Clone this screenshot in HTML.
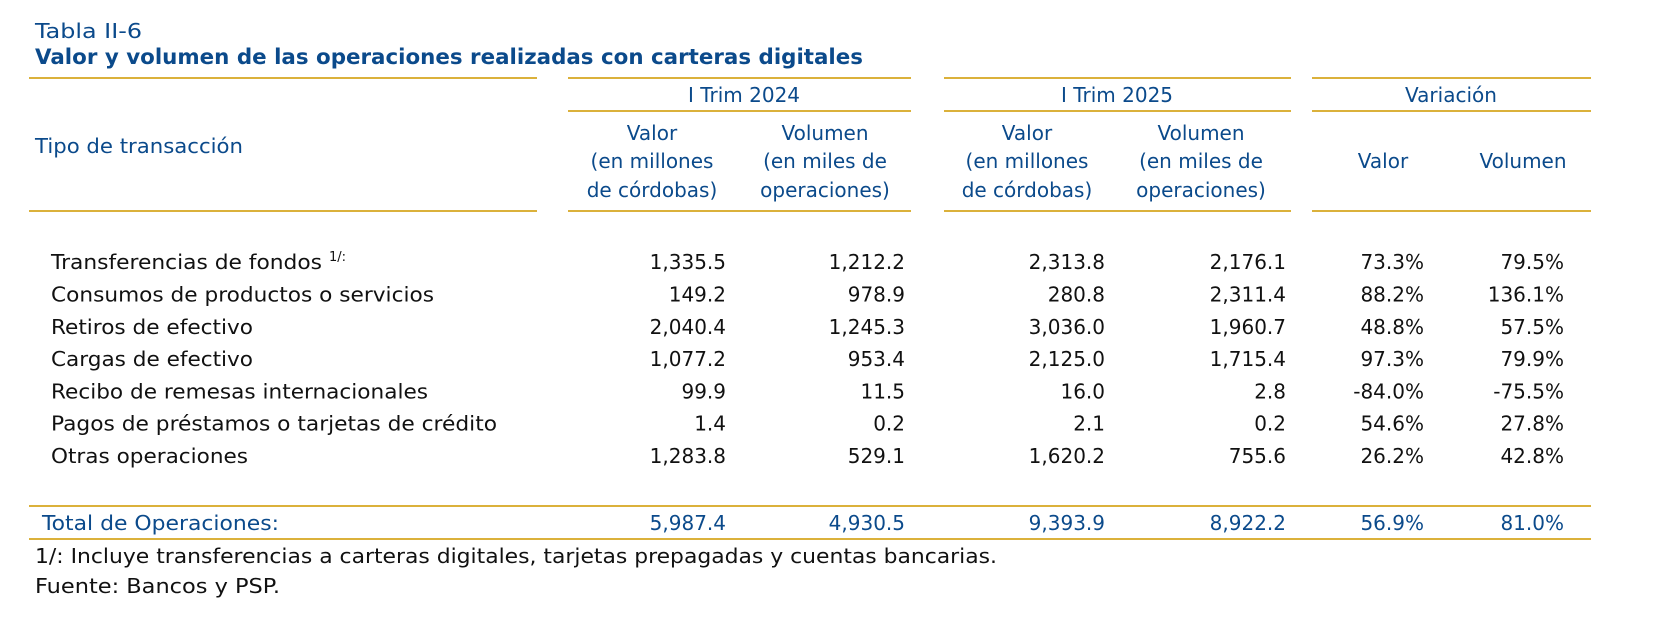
<!DOCTYPE html>
<html><head><meta charset="utf-8"><style>
html,body{margin:0;padding:0;background:#fff;}
svg{display:block;}
text{font-family:"DejaVu Sans","Liberation Sans",sans-serif;}
.hd{fill:#0b4a8b;font-size:20px;}
.num{fill:#111;font-size:20px;text-anchor:end;}
.lbl{fill:#111;font-size:20px;}
.tot{fill:#0b4a8b;font-size:20px;}
.c{text-anchor:middle;}
</style></head><body>
<svg id="tbl" width="1658" height="620" viewBox="0 0 1658 620">
<text x="35" y="38" class="hd" textLength="107" lengthAdjust="spacingAndGlyphs">Tabla II-6</text>
<text x="35" y="64" style="fill:#0b4a8b;font-weight:bold;font-size:21px" textLength="828" lengthAdjust="spacingAndGlyphs">Valor y volumen de las operaciones realizadas con carteras digitales</text>
<g stroke="#dbb13b" stroke-width="2">
<line x1="29" y1="78" x2="537" y2="78"/><line x1="568" y1="78" x2="911" y2="78"/><line x1="944" y1="78" x2="1291" y2="78"/><line x1="1312" y1="78" x2="1591" y2="78"/>
<line x1="568" y1="111" x2="911" y2="111"/><line x1="944" y1="111" x2="1291" y2="111"/><line x1="1312" y1="111" x2="1591" y2="111"/>
<line x1="29" y1="211" x2="537" y2="211"/><line x1="568" y1="211" x2="911" y2="211"/><line x1="944" y1="211" x2="1291" y2="211"/><line x1="1312" y1="211" x2="1591" y2="211"/>
<line x1="29" y1="506" x2="1591" y2="506"/><line x1="29" y1="539" x2="1591" y2="539"/>
</g>
<text x="35" y="153" class="hd" textLength="208" lengthAdjust="spacingAndGlyphs">Tipo de transacción</text>
<text x="744" y="102" class="hd c">I Trim 2024</text>
<text x="1117" y="102" class="hd c">I Trim 2025</text>
<text x="1451" y="102" class="hd c">Variación</text>
<g>
<text x="652" y="140" class="hd c">Valor</text><text x="652" y="168" class="hd c">(en millones</text><text x="652" y="197" class="hd c">de córdobas)</text></g>
<g>
<text x="825" y="140" class="hd c">Volumen</text><text x="825" y="168" class="hd c">(en miles de</text><text x="825" y="197" class="hd c">operaciones)</text></g>
<g>
<text x="1027" y="140" class="hd c">Valor</text><text x="1027" y="168" class="hd c">(en millones</text><text x="1027" y="197" class="hd c">de córdobas)</text></g>
<g>
<text x="1201" y="140" class="hd c">Volumen</text><text x="1201" y="168" class="hd c">(en miles de</text><text x="1201" y="197" class="hd c">operaciones)</text></g>
<text x="1383" y="168" class="hd c">Valor</text>
<text x="1523" y="168" class="hd c">Volumen</text>
<g id="rows"></g>
<text x="42" y="530" class="tot" textLength="237" lengthAdjust="spacingAndGlyphs">Total de Operaciones:</text>
<g id="totals"></g>
<text x="35" y="563" class="lbl" textLength="962" lengthAdjust="spacingAndGlyphs">1/: Incluye transferencias a carteras digitales, tarjetas prepagadas y cuentas bancarias.</text>
<text x="35" y="593" class="lbl" textLength="245" lengthAdjust="spacingAndGlyphs">Fuente: Bancos y PSP.</text>
</svg>
<script>
const categories = ["Transferencias de fondos","Consumos de productos o servicios","Retiros de efectivo","Cargas de efectivo","Recibo de remesas internacionales","Pagos de préstamos o tarjetas de crédito","Otras operaciones"];
const value2024 = ["1,335.5","149.2","2,040.4","1,077.2","99.9","1.4","1,283.8"];
const volume2024 = ["1,212.2","978.9","1,245.3","953.4","11.5","0.2","529.1"];
const value2025 = ["2,313.8","280.8","3,036.0","2,125.0","16.0","2.1","1,620.2"];
const volume2025 = ["2,176.1","2,311.4","1,960.7","1,715.4","2.8","0.2","755.6"];
const varValue = ["73.3%","88.2%","48.8%","97.3%","-84.0%","54.6%","26.2%"];
const varVolume = ["79.5%","136.1%","57.5%","79.9%","-75.5%","27.8%","42.8%"];
const totals = ["5,987.4","4,930.5","9,393.9","8,922.2","56.9%","81.0%"];
const NS = "http://www.w3.org/2000/svg";
const labelWidths = [271,383,202,202,377,446,197];
const colRight = [726,905,1105,1286,1424,1564];
const colNames = ["value-2024","volume-2024","value-2025","volume-2025","var-value","var-volume"];
const rowY = i => 269.2 + i * 32.3;
const rowsG = document.getElementById('rows');
categories.forEach((cat, i) => {
  const g = document.createElementNS(NS, 'g');
  
  
  const t = document.createElementNS(NS, 'text');
  
  
  t.setAttribute('x', 51); t.setAttribute('y', rowY(i));
  t.setAttribute('class', 'lbl');
  t.setAttribute('textLength', labelWidths[i]);
  t.setAttribute('lengthAdjust', 'spacingAndGlyphs');
  t.textContent = cat;
  g.appendChild(t);
  if (i === 0) {
    const s = document.createElementNS(NS, 'text');
    
    
    s.setAttribute('x', 329); s.setAttribute('y', rowY(i) - 8);
    s.setAttribute('class', 'lbl');
    s.style.fontSize = '13px';
    s.textContent = '1/:';
    g.appendChild(s);
  }
  const vals = [value2024[i], volume2024[i], value2025[i], volume2025[i], varValue[i], varVolume[i]];
  vals.forEach((v, j) => {
    const n = document.createElementNS(NS, 'text');
    
    
    n.setAttribute('x', colRight[j]); n.setAttribute('y', rowY(i));
    n.setAttribute('class', 'num');
    n.textContent = v;
    g.appendChild(n);
  });
  rowsG.appendChild(g);
});
const totG = document.getElementById('totals');
totals.forEach((v, j) => {
  const n = document.createElementNS(NS, 'text');
  
  
  n.setAttribute('x', colRight[j]); n.setAttribute('y', 530);
  n.setAttribute('class', 'tot');
  n.setAttribute('text-anchor', 'end');
  n.textContent = v;
  totG.appendChild(n);
});
</script>
</body></html>
